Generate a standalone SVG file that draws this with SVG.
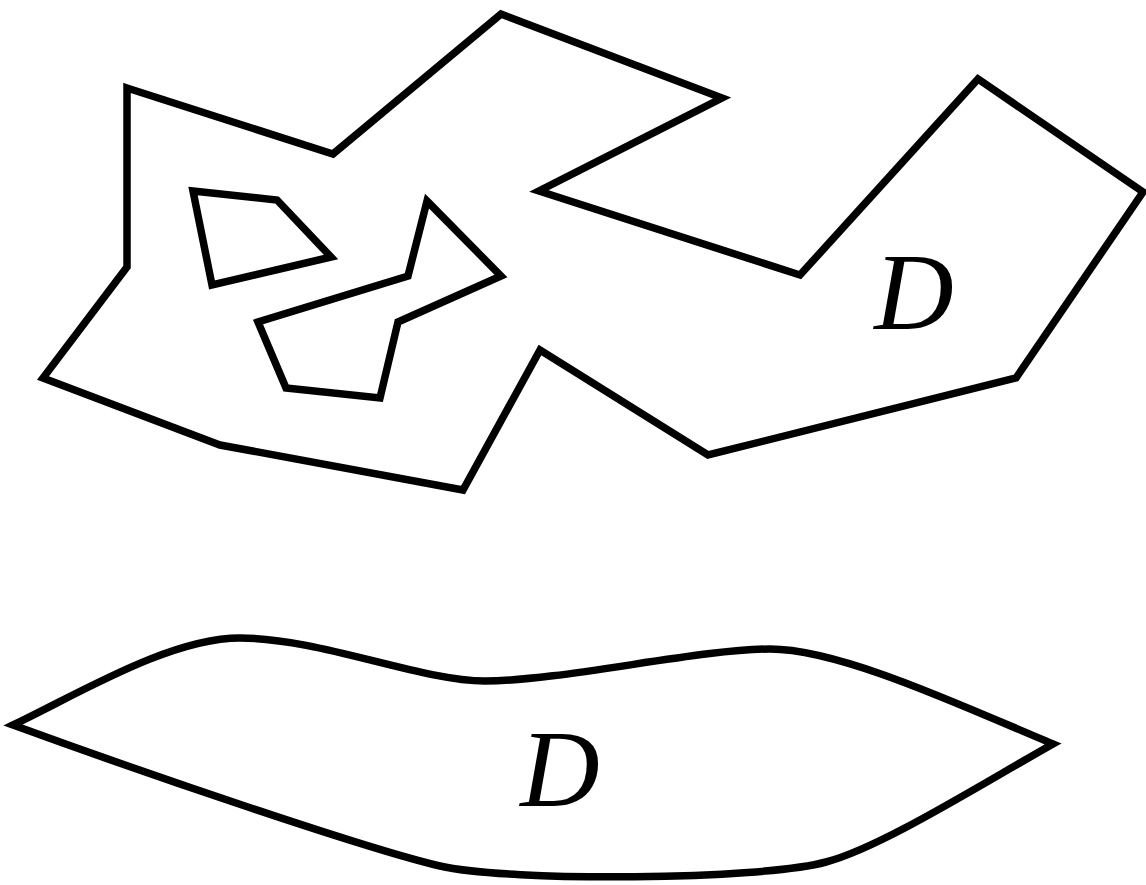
<svg xmlns="http://www.w3.org/2000/svg" width="1146" height="885" viewBox="0 0 1146 885">
<style>
.s{fill:none;stroke:#000;stroke-width:7.5;stroke-linejoin:miter;stroke-miterlimit:4}
.l{font-family:"Liberation Serif","Times New Roman",serif;font-style:italic;font-size:110px;fill:#000;text-anchor:middle}
</style>
<rect width="1146" height="885" fill="#fff"/>
<g id="region-polygon">
<polygon class="s" points="127,88 333,154 501,14 722,98 539,191 800,275 978,79 1143,192 1016,378 708,455 540,350 463,490 220,445 43,378 127,267"/>
<polygon class="s" points="193,191 277,200 331,257 212,285"/>
<polygon class="s" points="427,201 501,276 398,322 380,398 286,388 258,322 408,276"/>
<text class="l" x="914" y="329">D</text>
</g>
<g id="region-smooth">
<path class="s" d="M13,725 C80,693 170,638 240,638 C320,638 420,681 485,681 C560,681 700,649 770,649 C840,649 960,705 1053,744 C980,785 880,848 826,862 C760,880 510,882 440,866 C370,850 150,775 13,725 Z"/>
<text class="l" x="560" y="806">D</text>
</g>
<g id="connectors"/>
</svg>
